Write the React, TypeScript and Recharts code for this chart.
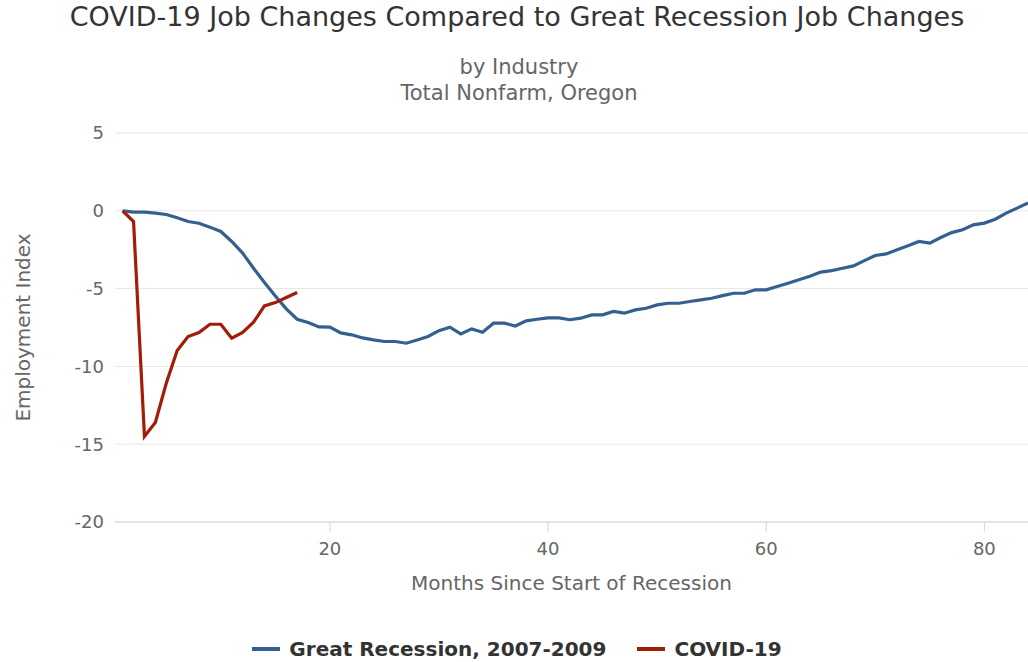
import { LineChart, Line, XAxis, YAxis, CartesianGrid } from "recharts";

const months = Array.from({ length: 84 }, (_, i) => i + 1);

const greatRecession = [
  0, -0.08, -0.08, -0.15, -0.24, -0.45, -0.69, -0.8, -1.05, -1.33,
  -1.97, -2.72, -3.69, -4.61, -5.47, -6.3, -6.97, -7.18, -7.46, -7.47,
  -7.85, -7.97, -8.17, -8.3, -8.4, -8.4, -8.51, -8.3, -8.08, -7.7,
  -7.48, -7.91, -7.59, -7.8, -7.22, -7.22, -7.4, -7.07, -6.97, -6.88,
  -6.88, -7.0, -6.9, -6.69, -6.69, -6.47, -6.58, -6.37, -6.26, -6.05,
  -5.94, -5.94, -5.83, -5.72, -5.62, -5.45, -5.3, -5.3, -5.08, -5.08,
  -4.87, -4.65, -4.43, -4.2, -3.94, -3.84, -3.69, -3.54, -3.2, -2.87,
  -2.77, -2.5, -2.25, -1.97, -2.08, -1.72, -1.4, -1.22, -0.9, -0.79,
  -0.54, -0.15, 0.17, 0.5,
];

const covid = [
  0, -0.69, -14.5, -13.6, -11.08, -8.98, -8.08, -7.82, -7.29, -7.29,
  -8.19, -7.82, -7.16, -6.11, -5.9, -5.57, -5.25,
];

const xTicks = [20, 40, 60, 80];
const yTicks = [-20, -15, -10, -5, 0, 5];

const BLUE = "#34608f";
const RED = "#a21d08";
const FONT = "'DejaVu Sans', sans-serif";

const data = months.map((m, i) => ({
  month: m,
  gr: greatRecession[i],
  covid: i < covid.length ? covid[i] : null,
}));

const legendItems = [
  { name: "Great Recession, 2007-2009", color: BLUE },
  { name: "COVID-19", color: RED },
];

export default function App() {
  return (
    <div style={{ position: "absolute", left: 0, top: 0, width: 1028, height: 662, background: "#fff", fontFamily: FONT }}>
      <div style={{ position: "absolute", top: 1, width: 1034, textAlign: "center", fontSize: 27, color: "#333333" }}>
        COVID-19 Job Changes Compared to Great Recession Job Changes
      </div>
      <div style={{ position: "absolute", top: 54, width: 1038, textAlign: "center", fontSize: 21, color: "#666666", lineHeight: "26px" }}>
        by Industry
        <br />
        Total Nonfarm, Oregon
      </div>
      <LineChart
        width={1028}
        height={662}
        data={data}
        margin={{ top: 133, right: 0, left: 55, bottom: 0 }}
        style={{ position: "absolute", left: 0, top: 0 }}
      >
        <CartesianGrid vertical={false} stroke="#e6e6e6" />
        <XAxis
          dataKey="month"
          type="number"
          domain={[0.3, 84]}
          allowDataOverflow
          ticks={xTicks}
          stroke="#ccd6eb"
          tickSize={10}
          tickMargin={10}
          height={140}
          tick={{ fill: "#666666", fontSize: 18, fontFamily: FONT }}
          label={{
            value: "Months Since Start of Recession",
            position: "insideTop",
            offset: 54,
            fill: "#666666",
            fontSize: 20,
            fontFamily: FONT,
          }}
        />
        <YAxis
          domain={[-20, 5]}
          ticks={yTicks}
          axisLine={false}
          tickLine={false}
          tickSize={0}
          tickMargin={11}
          width={60}
          tick={{ fill: "#666666", fontSize: 18, fontFamily: FONT }}
          label={{
            value: "Employment Index",
            angle: -90,
            position: "insideLeft",
            offset: -32,
            fill: "#666666",
            fontSize: 20,
            fontFamily: FONT,
            style: { textAnchor: "middle" },
          }}
        />
        <Line
          dataKey="gr"
          name="Great Recession, 2007-2009"
          stroke={BLUE}
          strokeWidth={3.2}
          dot={false}
          isAnimationActive={false}
        />
        <Line
          dataKey="covid"
          name="COVID-19"
          stroke={RED}
          strokeWidth={3.2}
          dot={false}
          connectNulls={false}
          isAnimationActive={false}
        />
      </LineChart>
      <div style={{ position: "absolute", top: 637, left: 0, width: 1034, display: "flex", justifyContent: "center", gap: 31 }}>
        {legendItems.map((it) => (
          <div key={it.name} style={{ display: "flex", alignItems: "center" }}>
            <svg width={28} height={10} style={{ marginRight: 9 }}>
              <line x1={0} y1={5} x2={28} y2={5} stroke={it.color} strokeWidth={4} />
            </svg>
            <span style={{ fontSize: 20, fontWeight: "bold", color: "#333333" }}>{it.name}</span>
          </div>
        ))}
      </div>
    </div>
  );
}
